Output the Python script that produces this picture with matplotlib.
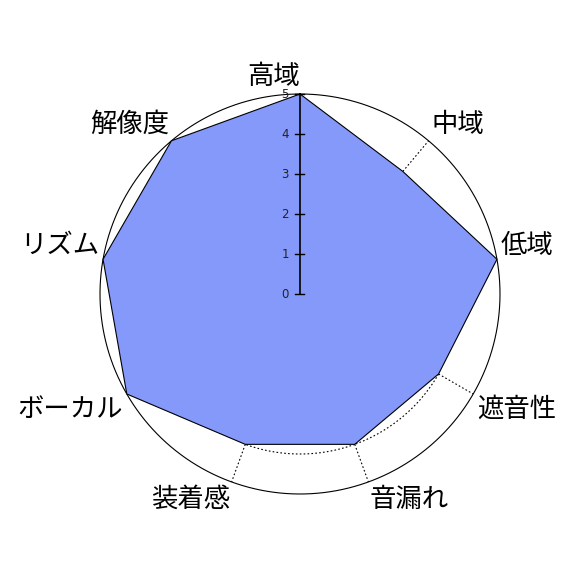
import numpy as np
import matplotlib
matplotlib.use("Agg")
import matplotlib.pyplot as plt

plt.rcParams['font.family'] = ['Noto Sans CJK JP', 'DejaVu Sans']

categories = ["高域", "中域", "低域", "遮音性", "音漏れ", "装着感", "ボーカル", "リズム", "解像度"]
values = [5, 4, 5, 4, 4, 4, 5, 5, 5]
ticks = [0, 1, 2, 3, 4, 5]
vmax = 5

W, H = 575, 575
cx, cy = 300, 294      # centre in pixels (from top-left)
ppu = 40.0             # pixels per unit

fig = plt.figure(figsize=(W / 100, H / 100), dpi=100)
ax = fig.add_axes([0, 0, 1, 1])
ax.set_xlim(-cx / ppu, (W - cx) / ppu)
ax.set_ylim(-(H - cy) / ppu, cy / ppu)
ax.set_aspect('equal')
ax.axis('off')

n = len(categories)
theta = np.arange(n) * 2 * np.pi / n   # clockwise from top

def xy(r, t):
    return r * np.sin(t), r * np.cos(t)

# outer circle
tt = np.linspace(0, 2 * np.pi, 400)
ax.plot(*xy(vmax, tt), color='black', lw=0.8, zorder=2)

# polygon
px, py = xy(np.array(values, float), theta)
ax.fill(px, py, facecolor='#8599FA', edgecolor='none', zorder=3)
ax.plot(np.append(px, px[0]), np.append(py, py[0]), color='black', lw=0.8, zorder=4)

# dotted radial lines from value to outer circle
for v, t in zip(values, theta):
    if v < vmax:
        x0, y0 = xy(v, t)
        x1, y1 = xy(vmax, t)
        ax.plot([x0, x1], [y0, y1], color='black', lw=0.8, ls=(0, (1.5, 2)), zorder=2)

# dotted arcs between neighbours both below max
for i in range(n):
    j = (i + 1) % n
    if values[i] < vmax and values[j] < vmax:
        t0 = theta[i]
        t1 = theta[i] + 2 * np.pi / n
        ts = np.linspace(t0, t1, 50)
        rs = np.linspace(values[i], values[j], 50)
        ax.plot(*xy(rs, ts), color='black', lw=0.8, ls=(0, (1.5, 2)), zorder=2)

# radial axis on top
ax.plot([0, 0], [0, vmax], color='black', lw=1.2, zorder=5)
tl = 4 / ppu
for tk in ticks:
    ax.plot([-1.3 * tl, tl], [tk, tk], color='black', lw=1.0, zorder=5)
    ax.text(-11 / ppu, tk, str(tk), ha='right', va='center', fontsize=8.5,
            color='#222222', family='DejaVu Sans', zorder=6)

# category labels
rl = 5.1
for lab, t in zip(categories, theta):
    s, c = np.sin(t), np.cos(t)
    ha = 'left' if 1e-6 < s else 'right'
    va = 'bottom' if c > 0 else 'top'
    x, y = xy(rl, t)
    ax.text(x, y, lab, ha=ha, va=va, fontsize=19, color='black', zorder=6)

fig.savefig('out.png', dpi=100, facecolor='white')
